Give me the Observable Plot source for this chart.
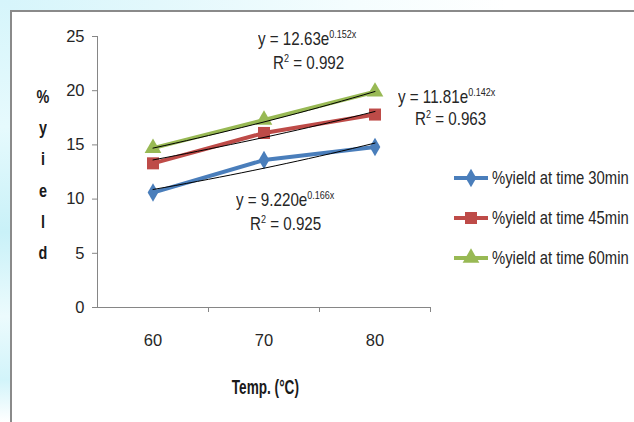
<!DOCTYPE html>
<html>
<head>
<meta charset="utf-8">
<script src="https://cdn.jsdelivr.net/npm/d3@7"></script>
<script src="https://cdn.jsdelivr.net/npm/@observablehq/plot@0.6"></script>
<style>
  html, body { margin: 0; padding: 0; background: #fff; }
  #wrap { position: relative; width: 634px; height: 422px; overflow: hidden; background: #fff;
    font-family: "Liberation Sans", Arial, sans-serif; color: #262626; }
  #bgLeft { position: absolute; left: 0; top: 0; width: 10px; height: 422px;
    background: linear-gradient(180deg, #d6f5fb 0%, #e6fafd 30%, #c9f1f8 55%, #ecfbfd 75%, #d2f4fa 90%, #ffffff 100%); }
  #bgTop { position: absolute; left: 0; top: 0; width: 634px; height: 11px;
    background: linear-gradient(90deg, #d6f5fb 0%, #e3f8fc 25%, #f4fdfe 55%, #ffffff 80%); }
  #borderTop { position: absolute; left: 10px; top: 10px; width: 624px; height: 0; border-top: 2px solid #8a8a8a; }
  #borderLeft { position: absolute; left: 10px; top: 10px; width: 0; height: 412px; border-left: 2px solid #8a8a8a; }
  #plot { position: absolute; left: 0; top: 0; }
  .eq { position: absolute; font-size: 18.5px; white-space: nowrap; line-height: 1; color: #262626;
    transform: scaleX(0.82); transform-origin: 0 0; }
  .eq sup { font-size: 11px; vertical-align: 0; position: relative; top: -7px; }
  .ylet { position: absolute; font-weight: bold; font-size: 18px; width: 20px; text-align: center; line-height: 1; color: #1a1a1a;
    transform: scaleX(0.8); }
  #xtitle { position: absolute; left: 0; width: 530px; top: 376px; text-align: center; font-weight: bold; font-size: 20px; color: #1a1a1a; }
  #xtitle span { display: inline-block; transform: scaleX(0.68); transform-origin: 50% 50%; }
  .leg { position: absolute; left: 452px; height: 20px; display: flex; align-items: center; font-size: 19px; white-space: nowrap; color: #262626; }
  .leg svg { margin-right: 2px; flex: none; }
  .leg span { display: inline-block; transform: scaleX(0.78); transform-origin: 0 50%; }
</style>
</head>
<body>
<div id="wrap">
  <div id="bgTop"></div>
  <div id="bgLeft"></div>
  <div id="borderTop"></div>
  <div id="borderLeft"></div>
  <div id="plot"></div>
</div>
<script>
// ---- data ----
const temps = [60, 70, 80];
const catIndex = [1, 2, 3];
const seriesNames = ["%yield at time 30min", "%yield at time 45min", "%yield at time 60min"];
const yield30 = [10.6, 13.6, 14.8];
const yield45 = [13.3, 16.1, 17.8];
const yield60 = [14.7, 17.3, 19.9];
const trendA = [9.220, 11.81, 12.63];
const trendB = [0.166, 0.142, 0.152];
const trendAText = ["9.220", "11.81", "12.63"];
const trendBText = ["0.166", "0.142", "0.152"];
const r2Text = ["0.925", "0.963", "0.992"];
const yTicks = [0, 5, 10, 15, 20, 25];
const colors = ["#4A7EBB", "#BE4B48", "#98B954"];
const symbols = ["diamond", "square", "triangle"];
const yTitleLetters = ["%", "y", "i", "e", "l", "d"];

const allYields = [yield30, yield45, yield60];
const points = [];
allYields.forEach((arr, s) => arr.forEach((v, i) => points.push({s: seriesNames[s], i: catIndex[i], v})));

// exponential trendlines (Excel fit y = a e^(b x), x = category index)
const trend = [];
seriesNames.forEach((name, s) => {
  for (let k = 0; k <= 20; k++) {
    const x = 1 + k * 0.1;
    trend.push({s: name, x, y: trendA[s] * Math.exp(trendB[s] * x)});
  }
});

const markerR = [5.6, 6.8, 6.2];

const chart = Plot.plot({
  width: 634,
  height: 422,
  marginLeft: 97,
  marginRight: 204,
  marginTop: 36,
  marginBottom: 115,
  style: {background: "transparent", fontFamily: "'Liberation Sans', Arial, sans-serif", fontSize: "16px", color: "#262626", overflow: "visible"},
  x: {domain: [0.5, 3.5], axis: null},
  y: {domain: [0, 25], axis: null},
  color: {domain: seriesNames, range: colors},
  symbol: {domain: seriesNames, range: symbols},
  marks: [
    Plot.axisY({ticks: yTicks, tickSize: 5, tickPadding: 8, stroke: "#868686", fill: "#262626", fontSize: 16.5, label: null}),
    Plot.axisX({ticks: [1.5, 2.5, 3.5], tickSize: 5, tickFormat: () => "", stroke: "#868686", label: null}),
    Plot.axisX({ticks: catIndex, tickSize: 0, tickPadding: 27, tickFormat: d => String(temps[d - 1]), fill: "#262626", fontSize: 16.5, label: null}),
    Plot.ruleX([0.5], {y1: 0, y2: 25, stroke: "#868686", strokeWidth: 1}),
    Plot.ruleY([0], {x1: 0.5, x2: 3.5, stroke: "#868686", strokeWidth: 1}),
    Plot.line(points, {x: "i", y: "v", z: "s", stroke: "s", strokeWidth: 4}),
    ...seriesNames.map((name, s) =>
      Plot.dot(points, {filter: d => d.s === name, x: "i", y: "v", fill: "s", symbol: "s", r: markerR[s], stroke: "none"})),
    Plot.line(trend, {x: "x", y: "y", z: "s", stroke: "black", strokeWidth: 1, curve: "linear"})
  ]
});
document.getElementById("plot").appendChild(chart);

const wrap = document.getElementById("wrap");
// equation labels
const eqPos = [
  {eq: [236, 191], r2: [250, 215]},
  {eq: [398, 88], r2: [415, 110]},
  {eq: [258, 30], r2: [273, 54]}
];
seriesNames.forEach((n, s) => {
  const e = document.createElement("div");
  e.className = "eq";
  e.style.left = eqPos[s].eq[0] + "px";
  e.style.top = eqPos[s].eq[1] + "px";
  e.innerHTML = `y = ${trendAText[s]}e<sup>${trendBText[s]}x</sup>`;
  wrap.appendChild(e);
  const r = document.createElement("div");
  r.className = "eq";
  r.style.left = eqPos[s].r2[0] + "px";
  r.style.top = eqPos[s].r2[1] + "px";
  r.innerHTML = `R<sup>2</sup> = ${r2Text[s]}`;
  wrap.appendChild(r);
});

// y title stacked letters
const yLetterTops = [88, 119, 150, 182, 213, 244];
yTitleLetters.forEach((c, i) => {
  const d = document.createElement("div");
  d.className = "ylet";
  d.style.left = "33px";
  d.style.top = yLetterTops[i] + "px";
  d.textContent = c;
  wrap.appendChild(d);
});

// x title
const xt = document.createElement("div");
xt.id = "xtitle";
xt.innerHTML = "<span>Temp. (°C)</span>";
wrap.appendChild(xt);

// legend
const legTops = [168, 208, 248];
const symbolGen = [d3.symbolDiamond, d3.symbolSquare, d3.symbolTriangle];
seriesNames.forEach((n, s) => {
  const row = document.createElement("div");
  row.className = "leg";
  row.style.top = legTops[s] + "px";
  const sv = d3.create("svg").attr("width", 38).attr("height", 20);
  sv.append("line").attr("x1", 2).attr("x2", 36).attr("y1", 10).attr("y2", 10)
    .attr("stroke", colors[s]).attr("stroke-width", 4);
  sv.append("path").attr("d", d3.symbol(symbolGen[s], Math.PI * markerR[s] * markerR[s])()).attr("transform", "translate(19,10)")
    .attr("fill", colors[s]);
  row.appendChild(sv.node());
  const t = document.createElement("span");
  t.textContent = n;
  row.appendChild(t);
  wrap.appendChild(row);
});
</script>
</body>
</html>
